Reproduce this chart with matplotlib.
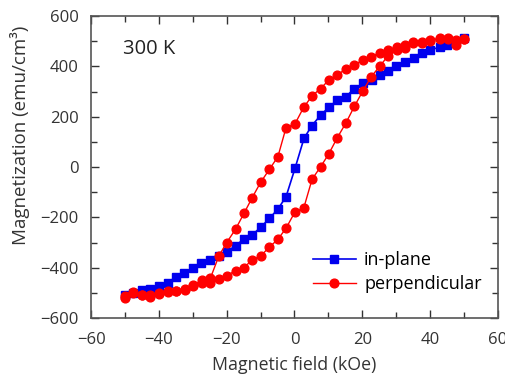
import numpy as np
import matplotlib.pyplot as plt
from matplotlib.ticker import MultipleLocator

# in-plane, one sweep 50 -> -50 kOe
h_in = [50, 45, 42.8, 40, 37.6, 35.2, 32.6, 30, 27.7, 25.2, 22.8, 20.2, 17.6, 15.2,
        12.6, 10.1, 7.7, 5.1, 2.8, 0.2, -2.5, -4.9, -7.4, -9.8, -12.5, -15, -17.4,
        -19.9, -22.3, -24.8, -27.5, -30, -32.6, -34.9, -37.3, -40, -42.6, -44.9, -47.5, -50]
m_in = [513, 486, 477, 464, 453, 435, 418, 402, 381, 365, 345, 332, 312, 279,
        266, 237, 206, 164, 114, -3, -118, -167, -204, -237, -270, -287, -312,
        -336, -352, -369, -382, -402, -422, -435, -459, -472, -485, -488, -501, -510]

# perpendicular, descending branch then ascending branch
h_dn = [50.1, 47.7, 45.2, 42.8, 40.1, 37.6, 35.1, 32.6, 30.2, 27.7, 25.1, 22.6, 20.2,
        17.7, 15.2, 12.6, 10.1, 7.7, 5.2, 2.7, 0.2, -2.5, -4.9, -7.4, -10, -12.5, -14.9,
        -17.4, -20, -22.3, -24.8, -27.3, -29.8, -32.4, -34.9, -37.4, -40, -42.6, -44.9,
        -47.5, -50]
m_dn = [510, 486, 513, 513, 500, 494, 497, 486, 477, 466, 455, 437, 424,
        407, 391, 365, 345, 312, 283, 237, 173, 156, 41, -9, -61, -122, -184,
        -247, -300, -353, -441, -448, -470, -488, -494, -497, -503, -518, -510,
        -497, -514]
h_up = [-50, -47.5, -44.9, -42.6, -40, -37.4, -34.9, -32.4, -29.8, -27.3, -24.8, -22.3,
        -20, -17.4, -14.9, -12.5, -10, -7.4, -4.9, -2.5, 0.2, 2.7, 5.2, 7.7, 10.1, 12.6,
        15.2, 17.7, 20.2, 22.6, 25.1, 27.5, 30.2, 32.6, 35.1, 37.6, 40.1, 42.8, 45.2,
        47.7, 50.1]
m_up = [-521, -501, -510, -510, -501, -494, -491, -485, -472, -461, -461, -445,
        -432, -411, -399, -369, -353, -318, -287, -243, -177, -164, -48, 1, 52, 116,
        176, 242, 303, 358, 400, 440, 464, 473, 494, 497, 503, 510, 510,
        503, 510]

plt.rcParams['font.family'] = ['Open Sans', 'DejaVu Sans']

fig = plt.figure(figsize=(5.06, 3.81), dpi=100)
ax = fig.add_axes([0.180, 0.165, 0.804, 0.793])

h_perp = h_dn + h_up
m_perp = m_dn + m_up
ax.plot(h_in, m_in, color='#0000ee', marker='s', markersize=6, lw=1.2, label='in-plane', zorder=3)
ax.plot(h_perp, m_perp, color='#ff0000', marker='o', markersize=6.3, lw=1.0, label='perpendicular', zorder=4)

ax.set_xlim(-60, 60)
ax.set_ylim(-600, 600)
ax.xaxis.set_major_locator(MultipleLocator(20))
ax.xaxis.set_minor_locator(MultipleLocator(10))
ax.yaxis.set_major_locator(MultipleLocator(200))
ax.yaxis.set_minor_locator(MultipleLocator(100))
ax.tick_params(which='both', direction='in', top=True, right=True, labelsize=12, colors='#333333')
ax.tick_params(which='major', length=6, width=1)
ax.tick_params(which='minor', length=4, width=1)
ax.tick_params(axis='x', which='major', pad=10)
ax.tick_params(axis='y', which='major', pad=9)
for s in ax.spines.values():
    s.set_color('#555555')
    s.set_linewidth(1.2)

ax.set_xlabel('Magnetic field (kOe)', fontsize=12.8, color='#333333', labelpad=5.5)
ax.set_ylabel('Magnetization (emu/cm³)', fontsize=13.5, color='#333333')
ax.yaxis.set_label_coords(-0.15, 0.605)
ax.text(-50.5, 470, '300 K', fontsize=14.5, color='#222222', va='center')

leg = ax.legend(loc='lower right', frameon=False, fontsize=13, handlelength=2.4,
                handletextpad=0.45, labelspacing=0.3, bbox_to_anchor=(1.0, 0.03))

fig.savefig('out.png', dpi=100)
